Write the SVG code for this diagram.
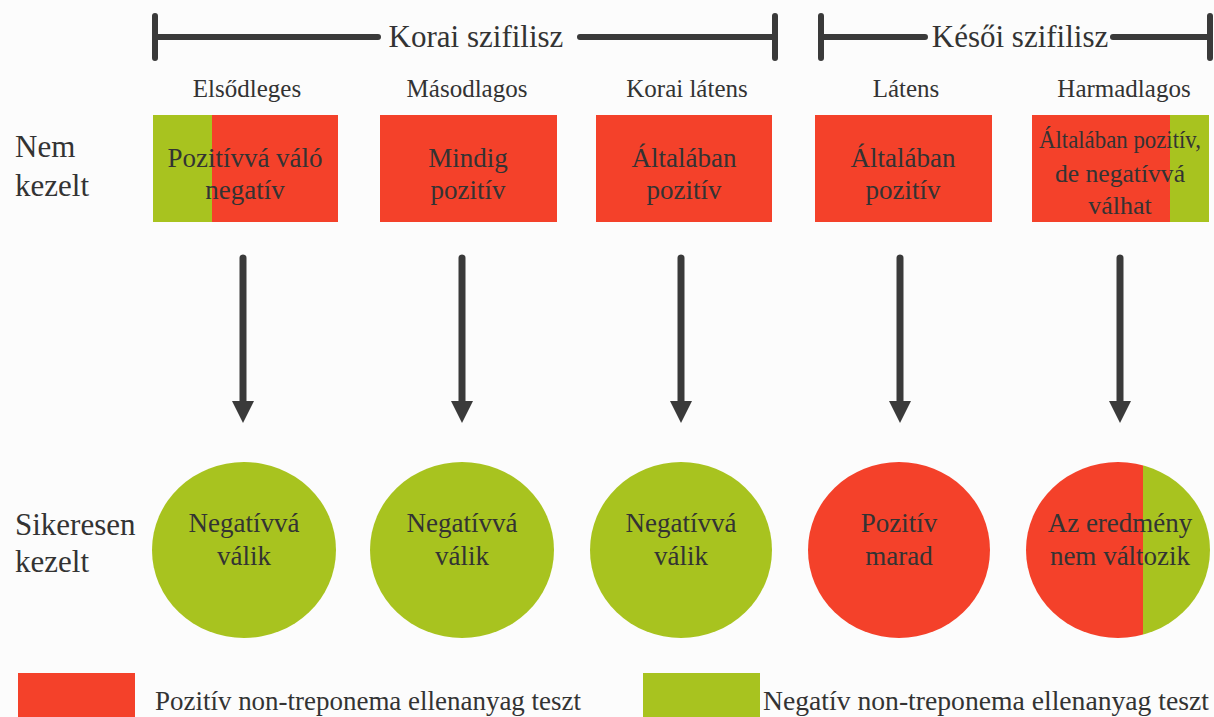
<svg xmlns="http://www.w3.org/2000/svg" width="1214" height="717" viewBox="0 0 1214 717">
<style>
text{font-family:"Liberation Serif","DejaVu Serif",serif;fill:#333333}
.hdr{font-size:31px}
.col{font-size:25px;text-anchor:middle}
.side{font-size:31px}
.lbl{font-size:27px;text-anchor:middle}
.sm{font-size:26px}
.leg{font-size:27px}
.bar{stroke:#3a3a3a;stroke-width:6;stroke-linecap:round;fill:none}
.red{fill:#f4412a}
.grn{fill:#a8c31f}
.arr{stroke:#3a3a3a;stroke-width:7;stroke-linecap:round}
.head{fill:#3a3a3a}
</style>
<defs>
<clipPath id="c5"><ellipse cx="1118" cy="550" rx="92" ry="88"/></clipPath>
</defs>
<rect width="1214" height="717" fill="#fcfcfc"/>

<g id="header-korai">
<path class="bar" d="M155 16V58M155 37H378M580 37H775M775 16V58"/>
<text class="hdr" x="476" y="47" text-anchor="middle">Korai szifilisz</text>
</g>
<g id="header-kesoi">
<path class="bar" d="M821 16V58M821 37H925M1113 37H1210M1210 16V58"/>
<text class="hdr" x="1020" y="47" text-anchor="middle">Késői szifilisz</text>
</g>

<g id="col-labels">
<text class="col" x="247" y="97">Elsődleges</text>
<text class="col" x="467" y="97">Másodlagos</text>
<text class="col" x="687" y="97">Korai látens</text>
<text class="col" x="906" y="97">Látens</text>
<text class="col" x="1124" y="97">Harmadlagos</text>
</g>

<g id="row-untreated">
<text class="side" x="15" y="157">Nem</text>
<text class="side" x="15" y="196">kezelt</text>
</g>
<g id="row-treated">
<text class="side" x="15" y="535">Sikeresen</text>
<text class="side" x="15" y="572">kezelt</text>
</g>

<g id="box1">
<rect class="red" x="153" y="115" width="185" height="107"/>
<rect class="grn" x="153" y="115" width="59" height="107"/>
<text class="lbl" x="245" y="167">Pozitívvá váló</text>
<text class="lbl" x="245" y="199">negatív</text>
</g>
<g id="box2">
<rect class="red" x="380" y="115" width="177" height="107"/>
<text class="lbl" x="468" y="167">Mindig</text>
<text class="lbl" x="468" y="199">pozitív</text>
</g>
<g id="box3">
<rect class="red" x="596" y="115" width="176" height="107"/>
<text class="lbl" x="684" y="167">Általában</text>
<text class="lbl" x="684" y="199">pozitív</text>
</g>
<g id="box4">
<rect class="red" x="815" y="115" width="177" height="107"/>
<text class="lbl" x="903" y="167">Általában</text>
<text class="lbl" x="903" y="199">pozitív</text>
</g>
<g id="box5">
<rect class="red" x="1032" y="115" width="177" height="107"/>
<rect class="grn" x="1170" y="115" width="39" height="107"/>
<text class="lbl sm" x="1120" y="148" textLength="162" lengthAdjust="spacingAndGlyphs">Általában pozitív,</text>
<text class="lbl sm" x="1120" y="182" textLength="130" lengthAdjust="spacingAndGlyphs">de negatívvá</text>
<text class="lbl sm" x="1120" y="214">válhat</text>
</g>

<g id="connectors">
<line class="arr" x1="243" y1="258" x2="243" y2="402"/><polygon class="head" points="232,401 254,401 243,423"/>
<line class="arr" x1="462" y1="258" x2="462" y2="402"/><polygon class="head" points="451,401 473,401 462,423"/>
<line class="arr" x1="681" y1="258" x2="681" y2="402"/><polygon class="head" points="670,401 692,401 681,423"/>
<line class="arr" x1="900" y1="258" x2="900" y2="402"/><polygon class="head" points="889,401 911,401 900,423"/>
<line class="arr" x1="1120" y1="258" x2="1120" y2="402"/><polygon class="head" points="1109,401 1131,401 1120,423"/>
</g>

<g id="circle1">
<ellipse class="grn" cx="244" cy="550" rx="92" ry="88"/>
<text class="lbl" x="244" y="532">Negatívvá</text>
<text class="lbl" x="244" y="565">válik</text>
</g>
<g id="circle2">
<ellipse class="grn" cx="462" cy="550" rx="92" ry="88"/>
<text class="lbl" x="462" y="532">Negatívvá</text>
<text class="lbl" x="462" y="565">válik</text>
</g>
<g id="circle3">
<ellipse class="grn" cx="681" cy="550" rx="91" ry="88"/>
<text class="lbl" x="681" y="532">Negatívvá</text>
<text class="lbl" x="681" y="565">válik</text>
</g>
<g id="circle4">
<ellipse class="red" cx="899" cy="550" rx="91" ry="88"/>
<text class="lbl" x="899" y="532">Pozitív</text>
<text class="lbl" x="899" y="565">marad</text>
</g>
<g id="circle5">
<g clip-path="url(#c5)">
<rect class="red" x="1020" y="455" width="123" height="190"/>
<rect class="grn" x="1143" y="455" width="75" height="190"/>
</g>
<text class="lbl" x="1120" y="532">Az eredmény</text>
<text class="lbl" x="1120" y="565">nem változik</text>
</g>

<g id="legend-pos">
<rect class="red" x="18" y="673" width="117" height="44"/>
<text class="leg" x="155" y="710" textLength="426" lengthAdjust="spacingAndGlyphs">Pozitív non-treponema ellenanyag teszt</text>
</g>
<g id="legend-neg">
<rect class="grn" x="643" y="673" width="117" height="44"/>
<text class="leg" x="763" y="710" textLength="446" lengthAdjust="spacingAndGlyphs">Negatív non-treponema ellenanyag teszt</text>
</g>
</svg>
